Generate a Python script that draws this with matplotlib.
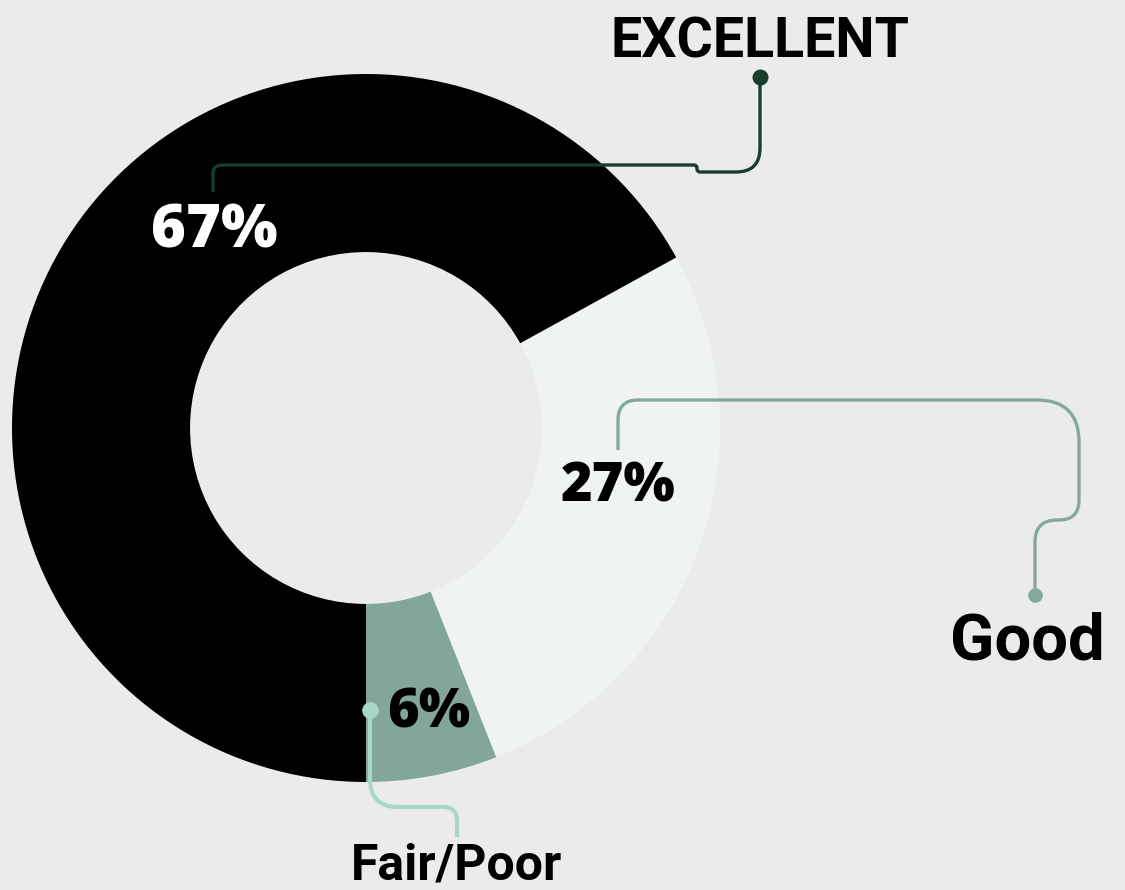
import matplotlib
matplotlib.use("Agg")
import matplotlib.pyplot as plt
from matplotlib.path import Path
from matplotlib.patches import PathPatch
import numpy as np

# ---- data ----
categories = ["Fair/Poor", "Good", "Excellent"]
values = [6, 27, 67]
pct_labels = ["6%", "27%", "67%"]
cat_labels = ["Fair/Poor", "Good", "EXCELLENT"]

# ---- style ----
BG = "#ebebeb"
seg_colors = ["#82a798", "#eff3f4", "#000000"]
line_colors = ["#a8d7c6", "#84a99a", "#173d2d"]

W, H = 1125, 890
fig = plt.figure(figsize=(W / 100, H / 100), dpi=100, facecolor=BG)
ax = fig.add_axes([0, 0, 1, 1])
ax.set_facecolor(BG)

def py(y):  # pixel-from-top -> data y
    return H - y

cx, cy, R = 366, 428, 354
ax.pie(values, colors=seg_colors, startangle=-90, counterclock=True,
       radius=R, center=(cx, py(cy)),
       wedgeprops=dict(width=R * 0.503, linewidth=0), frame=True)
ax.set_xlim(0, W)
ax.set_ylim(0, H)
ax.set_aspect("equal")
ax.axis("off")


def rounded(pts, radii):
    pts = [np.array([x, py(y)], float) for x, y in pts]
    verts = [pts[0]]
    codes = [Path.MOVETO]
    for i in range(1, len(pts) - 1):
        p0, p1, p2 = pts[i - 1], pts[i], pts[i + 1]
        d1 = p1 - p0
        d2 = p2 - p1
        l1 = np.linalg.norm(d1)
        l2 = np.linalg.norm(d2)
        r = min(radii[i - 1], l1 / 2, l2 / 2)
        a = p1 - d1 / l1 * r
        b = p1 + d2 / l2 * r
        verts += [a, p1, b]
        codes += [Path.LINETO, Path.CURVE3, Path.CURVE3]
    verts.append(pts[-1])
    codes.append(Path.LINETO)
    return Path(verts, codes)


def connector(pts, radii, color, lw, dot, ms):
    ax.add_patch(PathPatch(rounded(pts, radii), fill=False, edgecolor=color,
                           lw=lw, capstyle="butt", joinstyle="round", zorder=5))
    ax.plot([dot[0]], [py(dot[1])], "o", color=color, ms=ms, mec="none", zorder=6)

# Excellent connector
connector([(213, 192), (213, 165), (697, 165), (697, 172), (760, 172), (760, 77)],
          [9, 3, 3, 24], line_colors[2], 2.4, (760, 77), 11.5)
# Good connector
connector([(618, 450), (618, 400), (1079, 400), (1079, 520), (1035, 520), (1035, 595)],
          [20, 42, 20, 22], line_colors[1], 2.4, (1035, 595), 10.5)
# Fair/Poor connector
connector([(370, 710), (370, 807), (457, 807), (457, 837)],
          [28, 14], line_colors[0], 3.0, (370, 710), 12)

pct_font = dict(family="Open Sans", weight=800)
lab_font = dict(family="Roboto", weight="bold")

ax.text(214, py(247), pct_labels[2], color="white", fontsize=43, ha="center",
        va="baseline", zorder=7, **pct_font)
ax.text(618, py(502), pct_labels[1], color="black", fontsize=39, ha="center",
        va="baseline", zorder=7, **pct_font)
ax.text(429, py(727), pct_labels[0], color="black", fontsize=39, ha="center",
        va="baseline", zorder=7, **pct_font)

ax.text(760, py(57), cat_labels[2], color="black", fontsize=40, ha="center",
        va="baseline", zorder=7, **lab_font)
ax.text(1027, py(660), cat_labels[1], color="black", fontsize=47, ha="center",
        va="baseline", zorder=7, **lab_font)
ax.text(456, py(880), cat_labels[0], color="black", fontsize=36, ha="center",
        va="baseline", zorder=7, **lab_font)

fig.savefig("out.png", dpi=100, facecolor=BG)
